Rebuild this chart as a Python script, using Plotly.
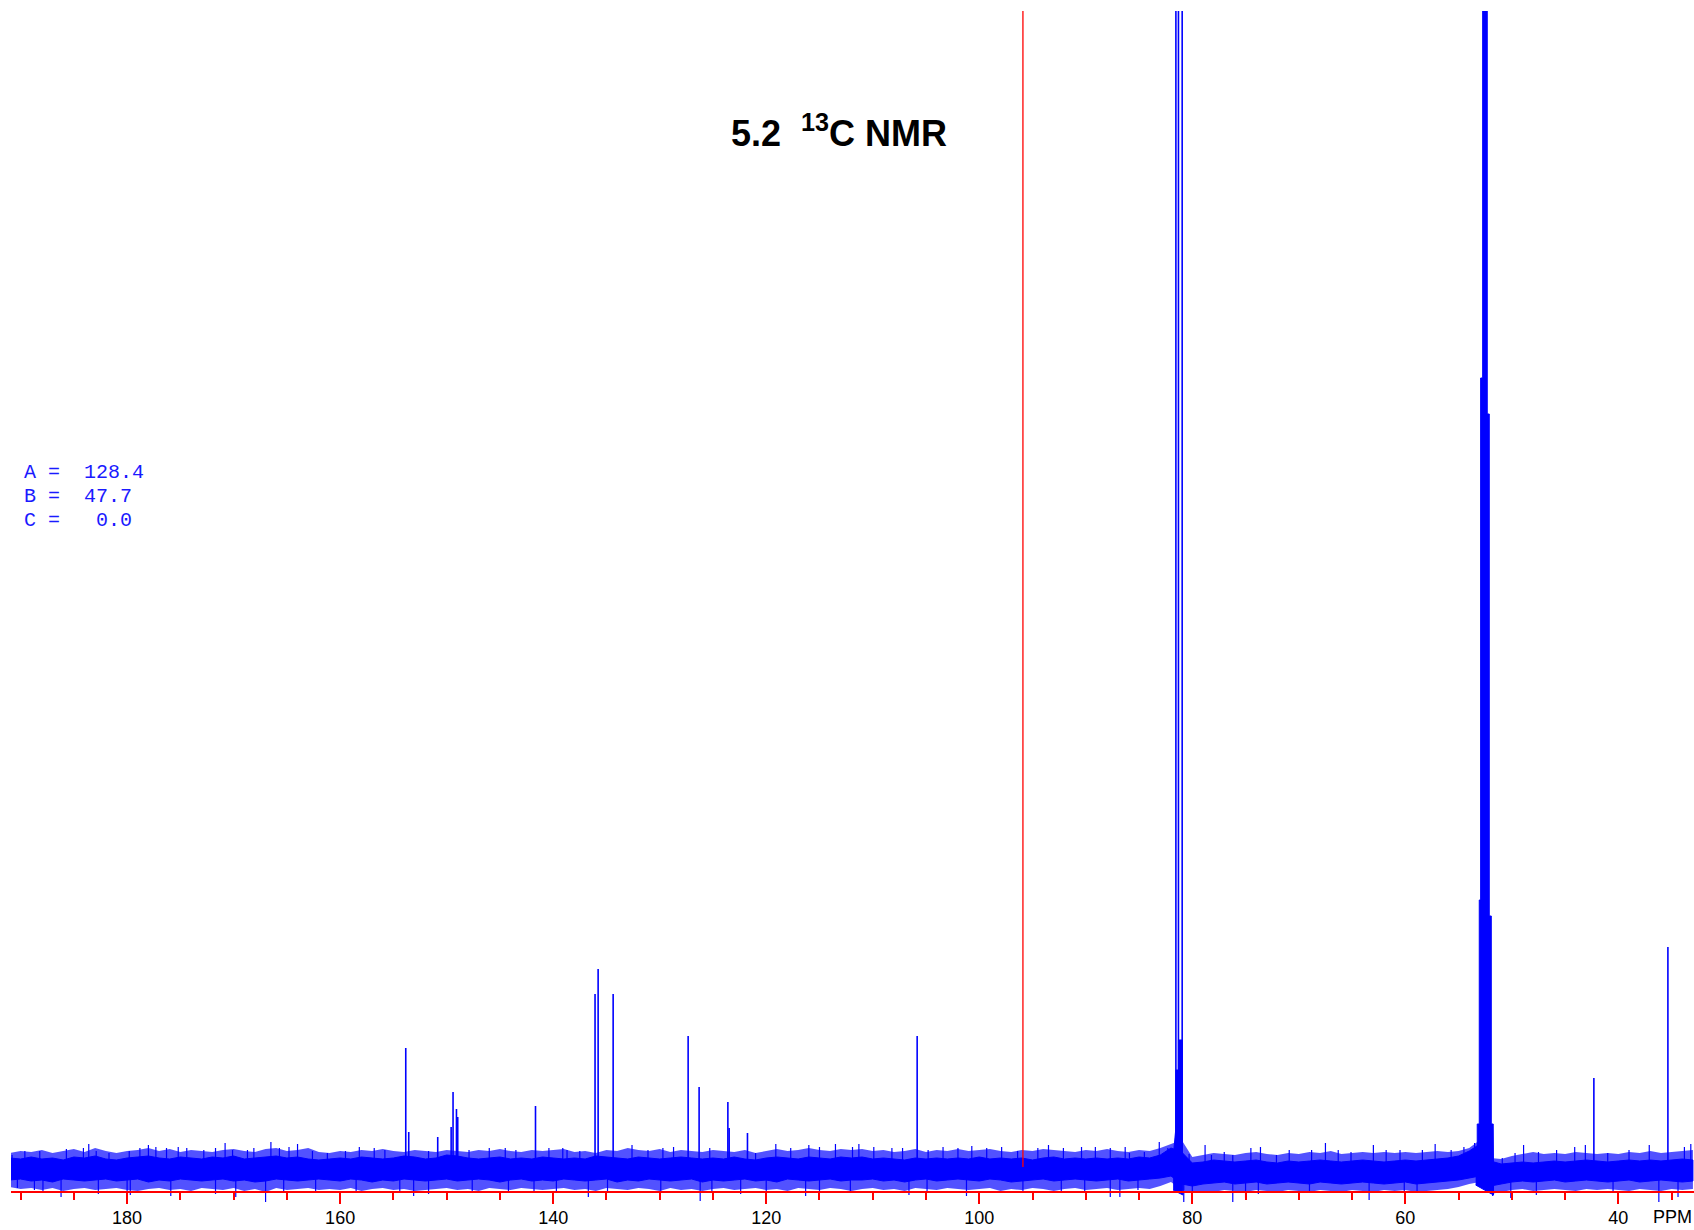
import plotly.graph_objects as go

# ---------------- data (ppm, intensity in arbitrary units; baseline = 0) ----------------
PEAK_PPM = [153.84, 153.56, 150.84, 149.58, 149.40, 149.08, 148.96, 141.66,
            136.07, 135.78, 134.37, 127.33, 126.30, 123.60, 123.48, 121.76,
            105.83, 81.54, 81.30, 80.95, 42.30, 35.35]
PEAK_H = [122, 38, 33, 43, 78, 61, 53, 64,
          176, 201, 176, 134, 83, 68, 42, 37,
          134, 1400, 1400, 1400, 92, 223]

# dense multiplet outlines (ppm, intensity)
M81_PPM = [81.80, 81.62, 81.56, 81.54, 81.30, 81.30, 80.95, 80.93, 80.88, 81.80]
M81_Y = [12, 30, 40, 100, 100, 130, 130, 10, -25, -20]

M53_PPM = [53.40, 53.25, 53.25, 53.06, 53.06, 52.93, 52.93, 52.74, 52.74, 52.31,
           52.31, 52.12, 52.12, 51.93, 51.93, 51.75, 51.72, 51.72, 53.40]
M53_Y = [14, 22, 46, 46, 270, 270, 792, 792, 1400, 1400,
         756, 756, 254, 254, 46, 46, 0, -25, -15]

# baseline noise, read every 1 ppm: dense core edges and outer (spiky) fringe edges
NOISE_PPM = [191, 190, 189, 188, 187, 186, 185, 184, 183, 182,
             181, 180, 179, 178, 177, 176, 175, 174, 173, 172,
             171, 170, 169, 168, 167, 166, 165, 164, 163, 162,
             161, 160, 159, 158, 157, 156, 155, 154, 153, 152,
             151, 150, 149, 148, 147, 146, 145, 144, 143, 142,
             141, 140, 139, 138, 137, 136, 135, 134, 133, 132,
             131, 130, 129, 128, 127, 126, 125, 124, 123, 122,
             121, 120, 119, 118, 117, 116, 115, 114, 113, 112,
             111, 110, 109, 108, 107, 106, 105, 104, 103, 102,
             101, 100, 99, 98, 97, 96, 95, 94, 93, 92,
             91, 90, 89, 88, 87, 86, 85, 84, 83, 82,
             81, 80, 79, 78, 77, 76, 75, 74, 73, 72,
             71, 70, 69, 68, 67, 66, 65, 64, 63, 62,
             61, 60, 59, 58, 57, 56, 55, 54, 53, 52,
             51, 50, 49, 48, 47, 46, 45, 44, 43, 42,
             41, 40, 39, 38, 37, 36, 35, 34, 33]
NOISE_UP = [12, 11, 13, 11, 12, 10, 13, 12, 14, 11,
            10, 12, 13, 14, 12, 11, 13, 12, 11, 13,
            12, 14, 11, 12, 13, 14, 12, 13, 11, 10,
            11, 12, 11, 13, 12, 11, 12, 14, 13, 11,
            12, 15, 14, 12, 11, 12, 13, 11, 12, 11,
            13, 12, 11, 12, 11, 14, 13, 12, 11, 13,
            12, 11, 12, 13, 12, 11, 12, 11, 13, 11,
            10, 12, 13, 12, 11, 13, 12, 11, 13, 12,
            13, 11, 12, 11, 10, 12, 11, 12, 11, 12,
            11, 13, 11, 12, 11, 12, 10, 12, 13, 11,
            12, 11, 12, 11, 12, 11, 13, 12, 15, 22,
            18, 7, 8, 10, 9, 8, 9, 10, 8, 7,
            9, 8, 9, 10, 9, 8, 9, 10, 9, 8,
            9, 10, 9, 10, 11, 12, 14, 19, 26, 9,
            6, 7, 8, 7, 8, 9, 8, 9, 10, 9,
            8, 9, 10, 9, 10, 9, 10, 11, 10]
NOISE_LO = [-10, -9, -11, -10, -12, -9, -10, -11, -10, -9,
            -11, -10, -9, -12, -10, -11, -9, -10, -11, -10,
            -9, -11, -10, -12, -11, -9, -10, -11, -10, -9,
            -10, -11, -9, -10, -12, -10, -11, -9, -10, -11,
            -10, -9, -11, -10, -9, -10, -12, -10, -9, -11,
            -10, -11, -9, -10, -11, -10, -9, -12, -10, -11,
            -9, -10, -11, -10, -9, -12, -10, -11, -10, -9,
            -11, -10, -12, -9, -10, -11, -10, -9, -11, -10,
            -10, -9, -11, -10, -12, -10, -9, -11, -10, -9,
            -10, -11, -9, -10, -12, -11, -10, -9, -11, -10,
            -9, -10, -11, -10, -9, -11, -10, -9, -8, -6,
            -14, -16, -14, -13, -12, -14, -13, -12, -14, -13,
            -12, -13, -14, -12, -13, -14, -13, -12, -13, -14,
            -13, -12, -14, -13, -12, -11, -10, -8, -6, -16,
            -14, -12, -11, -12, -11, -10, -12, -11, -10, -11,
            -12, -11, -10, -12, -11, -10, -11, -12, -11]
FRINGE_UP = [17, 19, 18, 20, 17, 19, 21, 18, 22, 19,
             17, 19, 20, 22, 19, 21, 18, 20, 19, 18,
             20, 21, 19, 18, 21, 22, 19, 20, 22, 18,
             17, 19, 18, 20, 19, 21, 19, 18, 20, 19,
             18, 20, 19, 18, 20, 19, 21, 19, 18, 20,
             19, 20, 21, 18, 19, 17, 20, 19, 22, 20,
             19, 21, 18, 20, 19, 18, 20, 19, 18, 20,
             17, 19, 21, 19, 20, 22, 20, 19, 21, 20,
             21, 19, 20, 18, 19, 21, 18, 20, 19, 21,
             19, 20, 21, 19, 18, 20, 19, 21, 20, 19,
             18, 20, 19, 21, 19, 18, 20, 19, 22, 26,
             30, 13, 15, 17, 16, 15, 17, 18, 16, 15,
             17, 16, 18, 17, 19, 16, 17, 18, 17, 18,
             17, 18, 17, 18, 19, 18, 19, 22, 30, 12,
             11, 14, 16, 18, 16, 17, 16, 18, 17, 16,
             17, 16, 18, 17, 19, 17, 18, 19, 20]
FRINGE_LO = [-17, -19, -18, -20, -18, -21, -19, -18, -20, -19,
             -18, -20, -21, -19, -18, -20, -19, -21, -18, -19,
             -20, -18, -21, -19, -22, -18, -20, -19, -18, -20,
             -19, -20, -18, -21, -19, -18, -20, -19, -21, -20,
             -19, -18, -20, -19, -21, -18, -19, -20, -18, -19,
             -20, -19, -18, -20, -19, -21, -18, -19, -20, -18,
             -19, -21, -18, -20, -19, -21, -19, -18, -20, -19,
             -18, -20, -19, -21, -18, -19, -20, -18, -19, -21,
             -19, -18, -20, -19, -21, -18, -19, -20, -18, -19,
             -20, -19, -18, -21, -19, -20, -18, -19, -21, -19,
             -18, -20, -19, -18, -20, -19, -18, -19, -16, -12,
             -20, -23, -21, -22, -20, -21, -22, -20, -21, -22,
             -20, -21, -22, -20, -21, -22, -20, -21, -22, -20,
             -21, -20, -22, -21, -20, -19, -17, -14, -12, -24,
             -22, -20, -19, -21, -20, -19, -20, -21, -19, -20,
             -19, -20, -21, -19, -20, -21, -19, -20, -19]

# individual noise spikes above / below the band
SPIKE_UP_PPM = [190.8, 189.6, 188.2, 185.7, 184.1, 183.6, 182.9, 181.7, 179.8, 178.8,
                178.0, 177.3, 176.3, 175.2, 174.4, 172.8, 171.7, 170.8, 170.1, 168.7,
                168.1, 166.5, 165.7, 164.8, 164.0, 162.6, 161.2, 159.5, 158.2, 156.8,
                155.8, 151.7, 147.9, 146.0, 144.5, 143.5, 140.4, 139.1,
                138.7, 137.5, 132.6, 131.1, 129.7, 128.7, 125.3, 121.0, 119.1, 117.7,
                116.0, 115.0, 113.5, 111.9, 111.3, 109.9, 108.2, 107.2, 104.8, 103.4,
                102.0, 100.7, 99.3, 97.9, 96.4, 94.5, 93.5, 92.1, 90.4, 89.1,
                87.7, 86.3,
                85.9, 84.5, 83.1, 82.3, 80.3, 78.8, 78.2, 77.0, 76.2, 74.5,
                73.6, 72.1, 70.9, 68.8, 67.5, 66.3, 65.1, 63.0, 61.8, 60.5,
                58.4, 57.2, 55.7, 54.5, 53.5, 50.9, 49.7, 48.9, 47.5, 45.8,
                44.1, 43.1, 41.0, 39.0, 37.1, 33.8, 33.2]
SPIKE_UP_Y = [15, 19, 19, 21, 22, 26, 19, 17, 19, 22,
              25, 23, 22, 23, 22, 20, 22, 27, 20, 20,
              22, 28, 22, 23, 26, 19, 17, 19, 23, 22,
              20, 19, 20, 22, 22, 20, 22, 22,
              20, 19, 25, 20, 22, 23, 22, 17, 26, 22,
              25, 23, 26, 23, 26, 23, 22, 22, 20, 23,
              22, 24, 22, 23, 19, 22, 25, 22, 23, 23,
              22, 23,
              17, 18, 28, 22, 16, 25, 15, 18, 15, 22,
              23, 15, 20, 20, 27, 20, 18, 25, 20, 20,
              20, 26, 20, 23, 27, 12, 17, 25, 18, 20,
              23, 25, 17, 20, 25, 23, 26]

SPIKE_DN_PPM = [190.3, 188.7, 187.9, 186.2, 182.7, 180.0, 179.7, 175.9, 171.7, 169.8,
                167.0, 165.3, 162.3, 158.5, 154.4, 153.1, 151.7, 147.6, 144.2, 141.8,
                139.7,
                136.7, 134.9, 129.9, 126.2, 125.1, 122.4, 120.0, 116.3, 115.0, 112.1,
                106.6, 104.9, 101.2, 95.9, 92.3, 90.1, 87.7, 86.8,
                85.1, 80.8, 80.0, 76.2, 75.0, 73.8, 69.0, 63.4, 60.1, 58.9,
                51.8, 50.1, 47.7, 40.5, 36.2, 34.4]
SPIKE_DN_Y = [-18, -20, -22, -27, -24, -23, -25, -26, -24, -27,
              -32, -23, -22, -22, -23, -26, -24, -22, -22, -23,
              -22,
              -27, -23, -23, -31, -23, -24, -23, -26, -23, -22,
              -25, -23, -26, -22, -23, -23, -27, -27,
              -20, -32, -32, -32, -28, -24, -23, -30, -23, -23,
              -26, -28, -25, -23, -32, -27]

REF_LINE_PPM = 95.9
REF_LINE_Y = [3, 1400]

TICK_LABEL_EXTRA = "PPM"
TICK_LABEL_EXTRA_AT = 35
TITLE = "<b>5.2\u00a0\u00a0<sup>13</sup>C NMR</b>"
INFO_LINES = ["A =\u00a0\u00a0128.4", "B =\u00a0\u00a047.7", "C =\u00a0\u00a0\u00a00.0"]

BLUE = "#0000ff"
RED = "#ff0000"


def sticks(xs, ys, base=0):
    X, Y = [], []
    for x, y in zip(xs, ys):
        X += [x, x, None]
        Y += [base, y, None]
    return X, Y


fig = go.Figure()

# noise fringe (partly covered zone) and dense core
fig.add_trace(go.Scatter(
    x=NOISE_PPM + NOISE_PPM[::-1], y=FRINGE_UP + FRINGE_LO[::-1],
    fill="toself", fillcolor="rgba(0,0,255,0.68)", mode="lines",
    line=dict(width=0), hoverinfo="skip"))
fig.add_trace(go.Scatter(
    x=NOISE_PPM + NOISE_PPM[::-1], y=NOISE_UP + NOISE_LO[::-1],
    fill="toself", fillcolor=BLUE, mode="lines",
    line=dict(color=BLUE, width=1), hoverinfo="skip"))

sx, sy = sticks(SPIKE_UP_PPM, SPIKE_UP_Y)
fig.add_trace(go.Scatter(x=sx, y=sy, mode="lines", line=dict(color=BLUE, width=1.2), hoverinfo="skip"))
sx, sy = sticks(SPIKE_DN_PPM, SPIKE_DN_Y)
fig.add_trace(go.Scatter(x=sx, y=sy, mode="lines", line=dict(color=BLUE, width=1.2), hoverinfo="skip"))

# multiplets
for px, py in ((M81_PPM, M81_Y), (M53_PPM, M53_Y)):
    fig.add_trace(go.Scatter(x=px, y=py, fill="toself", fillcolor=BLUE, mode="lines",
                             line=dict(color=BLUE, width=1), hoverinfo="skip"))

# peaks
px, py = sticks(PEAK_PPM, PEAK_H)
fig.add_trace(go.Scatter(x=px, y=py, mode="lines", line=dict(color=BLUE, width=1.6), hoverinfo="skip"))

# red reference cursor
fig.add_trace(go.Scatter(x=[REF_LINE_PPM, REF_LINE_PPM], y=REF_LINE_Y, mode="lines",
                         line=dict(color=RED, width=1.3), hoverinfo="skip"))

W, H = 1694, 1230
ML, MR, MT, MB = 11, 0, 11, 25
plot_h = H - MT - MB
plot_w = W - ML - MR
axis_y_px = 1192
axis_pos = (H - MB - axis_y_px) / plot_h


def px_to_paper_x(x):
    return (x - ML) / plot_w


def px_to_paper_y(y):
    return (H - MB - y) / plot_h


annotations = [
    dict(text=TITLE, xref="paper", yref="paper", x=px_to_paper_x(839), y=px_to_paper_y(131),
         xanchor="center", yanchor="middle", showarrow=False,
         font=dict(family="Liberation Sans, Arial", size=36, color="black")),
    dict(text=TICK_LABEL_EXTRA, xref="x", yref="paper", x=TICK_LABEL_EXTRA_AT, y=px_to_paper_y(1217),
         xanchor="center", yanchor="middle", xshift=1, showarrow=False,
         font=dict(family="Liberation Sans, Arial", size=18, color="black")),
]
for i, line in enumerate(INFO_LINES):
    annotations.append(dict(text=line, xref="paper", yref="paper",
                            x=px_to_paper_x(22), y=px_to_paper_y(472 + 24.3 * i),
                            xanchor="left", yanchor="middle", showarrow=False,
                            font=dict(family="Liberation Mono, Courier New, monospace", size=20,
                                      color="#1a1aff")))

fig.update_layout(
    width=W, height=H,
    margin=dict(l=ML, r=MR, t=MT, b=MB, pad=0, autoexpand=False),
    plot_bgcolor="white", paper_bgcolor="white",
    showlegend=False,
    annotations=annotations,
    xaxis=dict(range=[190.9, 32.9], showgrid=False, zeroline=False,
               showline=True, linecolor=RED, linewidth=2,
               ticks="outside", ticklen=11, tickwidth=2, tickcolor=RED,
               tick0=0, dtick=20, ticklabelstandoff=-2,
               tickfont=dict(family="Liberation Sans, Arial", size=18, color="black"),
               anchor="free", position=axis_pos, automargin=False,
               minor=dict(tick0=0, dtick=5, ticks="outside", ticklen=7, tickwidth=2,
                          tickcolor=RED, showgrid=False)),
    yaxis=dict(range=[-35, 1159], visible=False, fixedrange=True),
)

fig.write_html("out.html", config={"displayModeBar": False},
               post_script="document.body.style.margin='0px';document.body.style.overflow='hidden';")
